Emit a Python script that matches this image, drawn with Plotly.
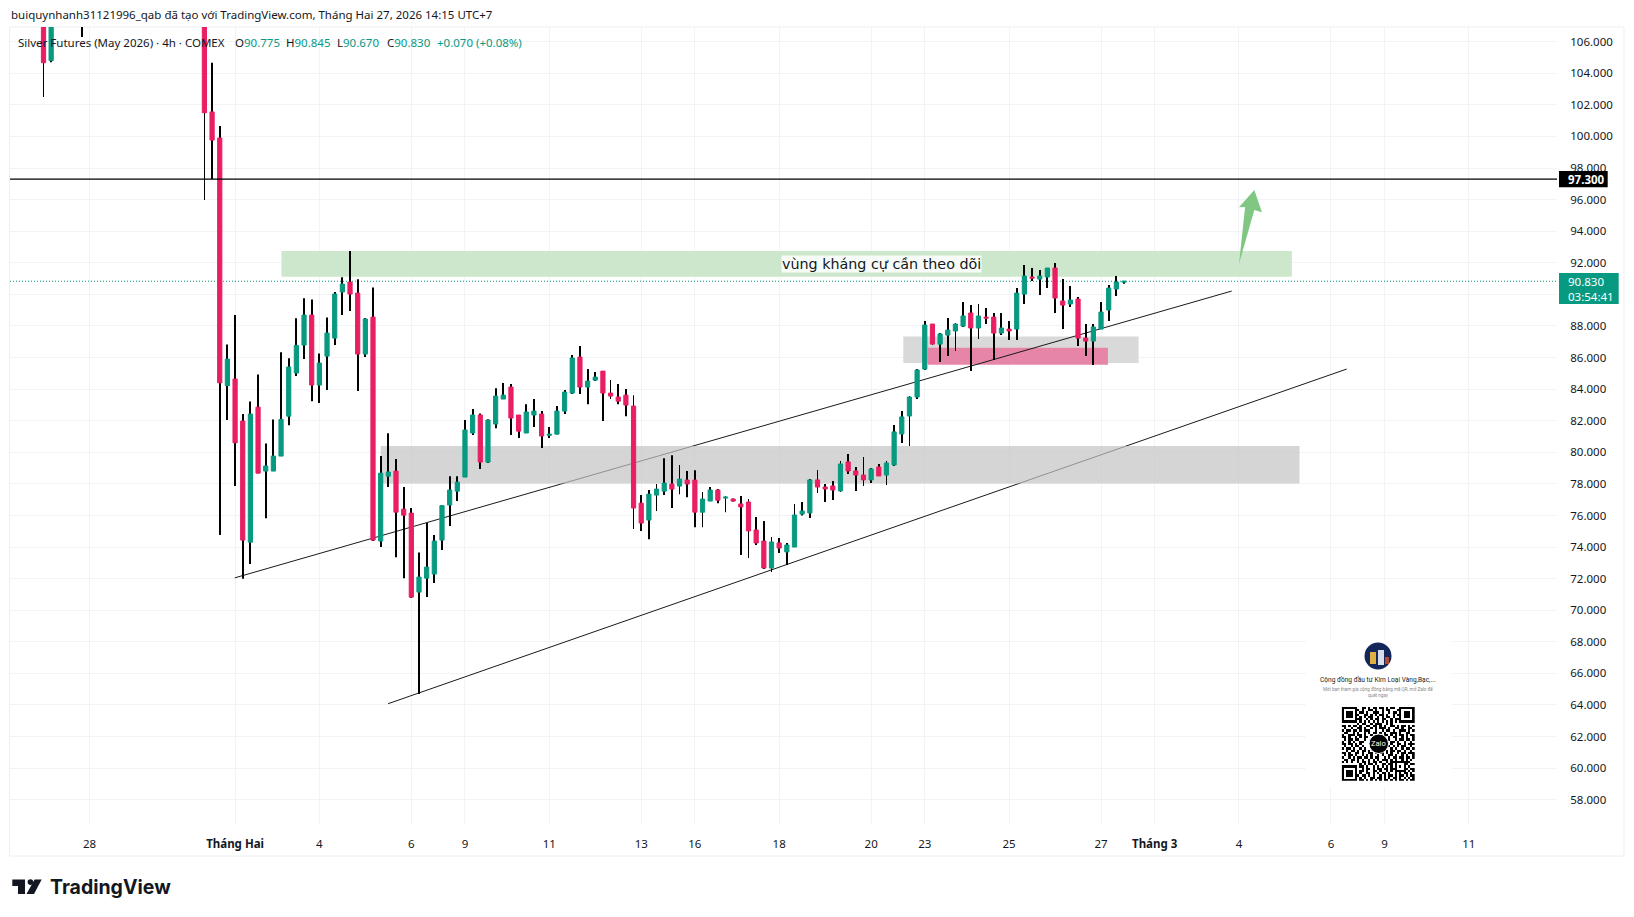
import numpy as np
import plotly.graph_objects as go

# bar numbers on the time axis, 0 is the big drop candle after the Feb open
bar_idx = [-23, -22, -18, -2, -1] + list(range(0, 119))

opens = [110.0, 104.8, 111.0, 113.0, 101.55,
    99.9, 84.22, 84.64, 81.98, 74.31, 82.86, 78.81, 78.81, 79.76, 82.29,
    85.02, 86.79, 88.69, 84.26, 86.09, 87.23, 90.15, 90.78, 90.08, 86.22,
    88.56, 74.38, 78.49, 78.81, 76.40, 76.15, 71.15, 72.03, 72.29, 74.44,
    76.66, 77.54, 78.43, 81.22, 82.36, 79.38, 81.79, 83.37, 84.13, 82.36,
    81.22, 82.36, 82.42, 81.07, 81.15, 82.61, 83.75, 86.03, 84.13, 84.57,
    85.14, 83.75, 83.50, 83.62, 82.93, 76.78, 75.71, 77.29, 77.54, 77.99,
    77.86, 78.24, 78.24, 76.21, 76.91, 77.61, 77.10, 77.04, 76.73, 76.85,
    75.08, 74.38, 72.67, 74.26, 73.69, 74.00, 76.09, 76.16, 78.25, 77.80,
    77.87, 77.55, 79.39, 78.82, 78.56, 78.25, 79.07, 78.56, 79.20, 81.16,
    82.30, 83.50, 85.27, 88.12, 86.85, 87.42, 87.68, 87.99, 88.82, 87.87,
    88.56, 88.56, 87.55, 87.80, 87.80, 90.02, 91.10, 90.97, 91.10, 91.67,
    89.58, 89.39, 89.70, 87.23, 87.04, 87.80, 89.01, 90.34, 90.775]
highs = [111.0, 110.0, 112.0, 114.0, 104.67,
    100.66, 86.83, 88.69, 82.42, 83.22, 84.93, 80.56, 82.08, 86.33, 85.95,
    88.48, 89.75, 89.68, 86.26, 88.54, 90.15, 91.08, 92.74, 90.95, 88.50,
    90.44, 79.76, 81.20, 79.57, 77.80, 76.47, 73.66, 75.52, 74.76, 76.64,
    78.49, 78.49, 82.04, 82.74, 82.46, 82.10, 84.05, 84.38, 84.32, 82.36,
    83.05, 83.37, 82.61, 81.60, 82.93, 83.94, 86.16, 86.73, 85.27, 85.08,
    85.14, 84.57, 84.32, 84.00, 83.62, 77.29, 77.61, 77.99, 79.63, 79.82,
    79.19, 78.81, 78.87, 77.48, 77.80, 77.67, 77.23, 77.08, 77.23, 77.04,
    75.90, 75.65, 74.64, 74.57, 74.26, 76.73, 76.85, 78.31, 78.88, 77.99,
    78.18, 79.45, 79.89, 79.07, 79.70, 79.01, 79.26, 79.45, 81.73, 82.62,
    83.57, 85.27, 88.31, 88.12, 87.55, 88.50, 88.18, 89.51, 89.32, 89.39,
    89.13, 88.82, 88.82, 88.31, 90.40, 91.86, 91.67, 91.54, 91.67, 91.98,
    90.97, 90.53, 89.83, 88.12, 88.12, 89.51, 90.59, 91.16, 90.845]
lows = [102.5, 104.7, 106.3, 95.97, 97.3,
    74.76, 82.04, 77.86, 71.99, 72.92, 78.68, 75.83, 78.81, 79.76, 81.72,
    84.83, 85.90, 83.24, 83.12, 83.94, 86.79, 88.69, 88.94, 83.88, 86.03,
    74.38, 74.0, 77.80, 73.36, 72.03, 70.77, 64.7, 70.83, 71.72, 73.81,
    75.33, 76.91, 78.43, 81.09, 78.94, 79.32, 81.53, 83.37, 81.09, 80.90,
    81.22, 81.60, 80.27, 80.90, 81.15, 82.42, 83.69, 83.69, 83.05, 84.51,
    81.98, 83.37, 83.05, 82.29, 75.14, 75.01, 74.50, 76.28, 77.29, 76.47,
    77.35, 77.16, 75.26, 75.26, 76.91, 76.78, 76.21, 76.89, 73.50, 73.31,
    74.13, 72.61, 72.42, 73.62, 72.86, 74.00, 76.0, 75.84, 77.42, 76.85,
    76.98, 77.49, 78.63, 77.55, 77.87, 78.06, 78.50, 77.93, 79.13, 80.59,
    80.40, 83.38, 85.21, 86.79, 85.71, 86.09, 86.41, 87.93, 85.14, 87.17,
    88.12, 85.84, 87.42, 87.11, 87.11, 89.39, 90.84, 89.96, 90.40, 88.82,
    87.80, 89.20, 86.73, 86.09, 85.52, 87.80, 88.31, 89.89, 90.67]
closes = [104.67, 109.0, 109.0, 101.5, 99.77,
    84.4, 85.90, 80.60, 74.44, 82.42, 78.68, 79.13, 79.76, 82.08, 85.40,
    86.77, 88.69, 84.26, 85.65, 87.55, 90.02, 90.65, 90.02, 86.22, 88.44,
    74.44, 78.68, 78.75, 76.21, 76.02, 70.83, 72.10, 72.73, 74.38, 76.62,
    77.61, 78.11, 81.41, 82.36, 79.38, 82.04, 83.56, 83.62, 82.17, 81.34,
    82.55, 82.61, 81.03, 81.15, 82.61, 83.81, 85.97, 84.13, 84.51, 84.76,
    83.75, 83.56, 83.24, 82.99, 76.47, 75.52, 77.35, 77.67, 78.05, 77.67,
    78.30, 77.99, 76.21, 77.04, 77.61, 76.97, 77.16, 76.91, 76.54, 75.02,
    74.26, 72.67, 74.32, 73.94, 74.13, 76.03, 76.28, 78.25, 77.80, 77.68,
    77.61, 79.26, 78.82, 78.56, 78.25, 78.94, 78.50, 79.32, 81.29, 82.24,
    83.50, 85.21, 88.06, 86.85, 87.49, 87.74, 88.12, 88.63, 87.87, 88.63,
    88.50, 87.55, 87.87, 87.68, 90.08, 91.16, 91.03, 91.16, 91.67, 89.77,
    89.32, 89.64, 87.23, 87.04, 87.93, 88.88, 90.40, 90.78, 90.83]

time_ticks = [-17, 2, 13, 25, 32, 43, 55, 62, 73, 85, 92, 103, 115, 122, 133, 145, 152, 163]
time_labels = ["28", "<b>Tháng Hai</b>", "4", "6", "9", "11", "13", "16", "18", "20", "23", "25", "27",
               "<b>Tháng 3</b>", "4", "6", "9", "11"]
price_ticks = list(range(58, 108, 2))
# the 90.000 label sits under the last price tag, only its grid line shows
price_labels = ["" if p == 90 else f"{p:.3f}" for p in price_ticks]

last_price = 90.83
level_price = 97.3
resistance_zone = [8.05, 139.9, 91.12, 92.74]
support_zone = [21.0, 140.9, 78.03, 80.4]
small_zone = [89.2, 119.9, 85.65, 87.34]
pink_zone = [92.4, 115.9, 85.55, 86.62]
qr_card = [141.7, 160.8, 58.8, 68.11]
trend_up = [1.96, 72.05, 132.05, 90.21]
trend_low = [21.97, 64.08, 147.05, 85.27]
arrow_x = [133.0, 133.8, 133.0, 135.0, 136.0, 135.0]
arrow_y = [91.92, 95.53, 95.51, 96.61, 95.2, 95.34]

qr_rows = [
    "#######..##.#.##.##.#.##..#######",
    "#.....##.#..##.#..#.##...##.....#",
    "#.###.#.##.#..###.#..#.##.#.###.#",
    "#.###.##..##.#.#.##.#..#.##.###.#",
    "#.###.#.#.#.##..#.#.##.#..#.###.#",
    "#.....###..#.#.##.##..#.###.....#",
    "#######.#.#.#.#.#.#.#.#.#.#######",
    ".......#.##..#.###..#.#..........",
    "##.#.##.#..##.##.#.#..##.#.##.#.#",
    ".#..#..##.#..#.#.###.#..##.#..##.",
    "#.##.##.#.###..#..#.##.#..###.#.#",
    ".##..#.#..#.#.##.#.#..###.#..##..",
    "#..###.##.#..#.##..##.#.#.##.#.##",
    "##.#..#.#.##.....#...#.##..#.#..#",
    ".#.##.##..#........#.#..#.##.##.#",
    "#..#.#..##.........##.##.#..#..#.",
    "##.##.#.#...........#.#..##.#.###",
    ".#..#.##.#..........##.#.#.##..#.",
    "#.##.#..#.#........#..#.#..#.##.#",
    "..#.##.#.##.#.....#.#.##.##.#..#.",
    "##.#..##.#..##.#.##.#.#..#.##.###",
    ".#.##.#..#.#.#..#.#..##.#..#.#..#",
    "#..#.#.##.##.#.##..#.#.##.##.##.#",
    ".##.##.#.#..#.#.#.###.#.#..#.#.#.",
    "#.#.#..#.##.#.##.#..#.#########..",
    "........#.#.##.#..##.##.#...##.##",
    "#######.##.#..#.#.#.#.#.#.#.#.#..",
    "#.....#..#.##.#.##.##.###...##.##",
    "#.###.#.##.#..##.#..#.#.#####.#.#",
    "#.###.#.#..##.#.#.##.#..#.#.##.#.",
    "#.###.##.##.#.#..#.#.##.#.##.#.##",
    "#.....#.#.#..##.##.#.#.##.#.#.#.#",
    "#######.##.#.#.#.#.##.#.#.##.#.##",
]

GREEN = "#089981"
RED = "#E91E63"
TEXT = "#131722"
GRID = "#f1f3f6"
FONT = "Noto Sans"

# plot box in page pixels
PL, PR, PT, PB = 10, 1557, 27, 825
X_RANGE = [-27.37, 174.5]
Y_RANGE = [56.4, 106.93]


def px(x):
    return (x - PL) / (PR - PL)


def py(y):
    return (PB - y) / (PB - PT)


def paper_path(points):
    return "M " + " L ".join(f"{px(x):.5f} {py(y):.5f}" for x, y in points) + " Z"


def paper_rect(x0, y0, x1, y1, **kw):
    return dict(type="rect", xref="paper", yref="paper", x0=px(x0), x1=px(x1), y0=py(y0), y1=py(y1), **kw)


def zone(z, color, layer="between"):
    return dict(type="rect", xref="x", yref="y", x0=z[0], x1=z[1], y0=z[2], y1=z[3],
                fillcolor=color, line_width=0, layer=layer)


def trend(t):
    return dict(type="line", xref="x", yref="y", x0=t[0], y0=t[1], x1=t[2], y1=t[3],
                line=dict(color="#1a1a1a", width=1), layer="between")


def label(text, x, y, size=11.5, color=TEXT, anchor="left", font=FONT, **kw):
    return dict(text=text, xref="paper", yref="paper", x=px(x), y=py(y), xanchor=anchor, yanchor="middle",
                showarrow=False, font=dict(family=font, size=size, color=color), borderpad=0, **kw)


o = np.array(opens)
c = np.array(closes)
h = np.array(highs)
l = np.array(lows)

fig = go.Figure()

# wicks sit in the bar layer so the candle bodies stay on top of them
fig.add_trace(go.Bar(x=bar_idx, y=h - l, base=l, width=0.11, marker=dict(color="#000000", line_width=0),
                     hoverinfo="skip", showlegend=False))
fig.add_trace(go.Candlestick(
    x=bar_idx, open=o, high=np.maximum(o, c), low=np.minimum(o, c), close=c,
    increasing=dict(line=dict(color=GREEN, width=1), fillcolor=GREEN),
    decreasing=dict(line=dict(color=RED, width=1), fillcolor=RED),
    whiskerwidth=0, showlegend=False))

# zalo qr block, on its own little axes
qr_matrix = [[1 if ch == "#" else 0 for ch in row.ljust(33, ".")[:33]] for row in qr_rows]
fig.add_trace(go.Heatmap(z=qr_matrix, xaxis="x2", yaxis="y2", showscale=False, hoverinfo="skip",
                         colorscale=[[0, "#ffffff"], [1, "#000000"]], zmin=0, zmax=1))

shapes = [
    paper_rect(9.5, 27, 1624, 856, line=dict(color="#eceef2", width=1), layer="below"),
    zone(qr_card, "#ffffff"),
    zone(small_zone, "#d9d9d9"),
    zone(pink_zone, "#e685a8"),
    zone(resistance_zone, "#cde7cd"),
    trend(trend_up),
    trend(trend_low),
    zone(support_zone, "rgba(195,195,195,0.7)"),
    dict(type="line", xref="x", yref="y", x0=X_RANGE[0], x1=X_RANGE[1], y0=last_price, y1=last_price,
         line=dict(color=GREEN, width=1, dash="1px,2px"), layer="between"),
    dict(type="line", xref="x", yref="y", x0=X_RANGE[0], x1=X_RANGE[1], y0=level_price, y1=level_price,
         line=dict(color="#000000", width=1.2), layer="above"),
    dict(type="path", xref="x", yref="y", line_width=0, fillcolor="#81c784", layer="above",
         path="M " + " L ".join(f"{a} {b}" for a, b in zip(arrow_x, arrow_y)) + " Z"),
    # price tags
    paper_rect(1559, 171, 1607.7, 187.3, fillcolor="#000000", line_width=0, layer="above"),
    paper_rect(1559, 273, 1618.7, 304, fillcolor=GREEN, line_width=0, layer="above"),
    # avatar
    dict(type="circle", xref="paper", yref="paper", x0=px(1364.5), x1=px(1391.5), y0=py(642.5), y1=py(669.5),
         fillcolor="#14275a", line_width=0, layer="above"),
    paper_rect(1370, 652, 1376, 664, fillcolor="#e0b040", line_width=0, layer="above"),
    paper_rect(1378, 650, 1384, 665, fillcolor="#d8dde8", line_width=0, layer="above"),
    paper_rect(1385, 657, 1389, 664, fillcolor="#b04a30", line_width=0, layer="above"),
    # zalo badge in the qr
    dict(type="circle", xref="paper", yref="paper", x0=px(1369), x1=px(1388.5), y0=py(734), y1=py(753.5),
         fillcolor="#000000", line=dict(color="#ffffff", width=1), layer="above"),
    # tradingview logo
    dict(type="path", xref="paper", yref="paper", fillcolor=TEXT, line_width=0, layer="above",
         path=paper_path([(12.3, 879.5), (25, 879.5), (25, 894), (18, 894), (18, 886), (12.3, 886)])),
    dict(type="path", xref="paper", yref="paper", fillcolor=TEXT, line_width=0, layer="above",
         path=paper_path([(34.5, 879.5), (41.7, 879.5), (34, 894), (26.5, 894)])),
    dict(type="circle", xref="paper", yref="paper", x0=px(27.6), x1=px(33.2), y0=py(879.3), y1=py(884.9),
         fillcolor=TEXT, line_width=0, layer="above"),
]

annotations = [
    label("buiquynhanh31121996_qab đã tạo với TradingView.com, Tháng Hai 27, 2026 14:15 UTC+7", 10, 15),
    label("Silver Futures (May 2026) · 4h · COMEX", 17, 42),
    label(f"O<span style='color:{GREEN}'>90.775</span>", 234, 42),
    label(f"H<span style='color:{GREEN}'>90.845</span>", 285, 42),
    label(f"L<span style='color:{GREEN}'>90.670</span>", 336, 42),
    label(f"C<span style='color:{GREEN}'>90.830</span>", 386, 42),
    label("+0.070 (+0.08%)", 436, 42, color=GREEN),
    dict(text="vùng kháng cự cần theo dõi", xref="x", yref="y", x=86.3, y=91.9, showarrow=False,
         font=dict(family="DejaVu Sans", size=14.3, color=TEXT), bgcolor="rgba(255,255,255,0.85)", borderpad=0),
    label("<b>97.300</b>", 1567, 179.5, color="#ffffff"),
    label("90.830<br>03:54:41", 1567, 288.5, color="#ffffff", align="left"),
    label("Cộng đồng đầu tư Kim Loại Vàng,Bạc,...", 1378, 679.5, size=6.6, color="#222222",
          anchor="center", font="Roboto"),
    label("Mời bạn tham gia cộng đồng bằng mã QR, mở Zalo để", 1378, 689, size=4.6, color="#8a8a8a",
          anchor="center", font="Roboto"),
    label("quét ngay", 1378, 695, size=4.6, color="#8a8a8a", anchor="center", font="Roboto"),
    label("Zalo", 1378.7, 743.7, size=7.5, color="#ffffff", anchor="center", font="Roboto"),
    label("<b>TradingView</b>", 48.5, 887, size=19.5, font="Inter"),
]

fig.update_layout(
    width=1634, height=917, margin=dict(l=PL, r=1634 - PR, t=PT, b=917 - PB),
    paper_bgcolor="#ffffff", plot_bgcolor="#ffffff",
    font=dict(family=FONT, size=11.5, color=TEXT),
    barmode="overlay", boxmode="overlay", boxgap=0.45, boxgroupgap=0, showlegend=False,
    shapes=shapes, annotations=annotations,
    xaxis=dict(range=X_RANGE, tickmode="array", tickvals=time_ticks, ticktext=time_labels,
               showgrid=True, gridcolor=GRID, gridwidth=1, zeroline=False, showline=False,
               ticks="outside", ticklen=8, tickcolor="rgba(0,0,0,0)", rangeslider=dict(visible=False),
               tickfont=dict(family=FONT, size=11.5, color=TEXT)),
    yaxis=dict(range=Y_RANGE, side="right", tickmode="array", tickvals=price_ticks, ticktext=price_labels,
               showgrid=True, gridcolor=GRID, gridwidth=1, zeroline=False, showline=False,
               ticks="outside", ticklen=10, tickcolor="rgba(0,0,0,0)",
               tickfont=dict(family=FONT, size=11.5, color=TEXT)),
    xaxis2=dict(domain=[px(1341.7), px(1415)], anchor="y2", visible=False, fixedrange=True),
    yaxis2=dict(domain=[py(780.7), py(707)], anchor="x2", visible=False, autorange="reversed", fixedrange=True),
)

# the page keeps its default 8px body margin otherwise
fig.write_html("out.html", config={"displayModeBar": False}, post_script="document.body.style.margin='0';")
